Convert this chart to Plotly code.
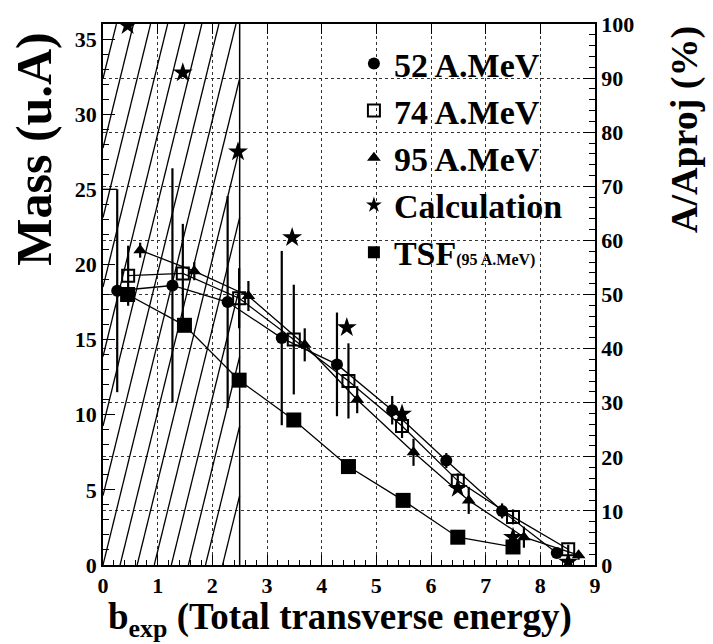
import plotly.graph_objects as go

# ---- data: mean fragment mass vs experimental impact parameter ----
b52 = [0.26, 1.27, 2.28, 3.27, 4.28, 5.29, 6.28, 7.30, 8.30]
m52 = [18.25, 18.6, 17.5, 15.1, 13.35, 10.3, 6.95, 3.6, 0.8]
e52 = [6.75, 7.8, 7.05, 5.8, 3.45, 0.95, 0.5, 0.5, 0.3]

b74 = [0.46, 1.46, 2.49, 3.49, 4.49, 5.47, 6.49, 7.50, 8.51]
m74 = [19.25, 19.4, 17.75, 15.0, 12.25, 9.25, 5.6, 3.2, 1.05]
e74 = [2.0, 3.3, 2.0, 3.65, 2.5, 0.8, 0.5, 0.5, 0.3]

b95 = [0.68, 1.67, 2.66, 3.69, 4.65, 5.68, 6.69, 7.70, 8.70]
m95 = [20.95, 19.55, 17.9, 14.65, 11.0, 7.5, 4.3, 1.85, 0.65]
e95 = [0.5, 0.6, 1.0, 1.1, 0.9, 0.9, 0.9, 0.7, 0.3]

bcalc = [0.45, 1.46, 2.47, 3.46, 4.46, 5.47, 6.49, 7.50, 8.51]
mcalc = [35.9, 32.75, 27.5, 21.8, 15.8, 10.05, 5.1, 1.85, 0.2]

btsf = [0.45, 1.49, 2.49, 3.49, 4.49, 5.49, 6.49, 7.50]
mtsf = [18.0, 15.95, 12.3, 9.65, 6.55, 4.3, 1.85, 1.2]

# tick positions / labels
xticks = [0, 1, 2, 3, 4, 5, 6, 7, 8, 9]
yticks = [0, 5, 10, 15, 20, 25, 30, 35]
pticks = [0, 10, 20, 30, 40, 50, 60, 70, 80, 90, 100]

# axis extents: projectile mass and percentage scale
A_PROJ = 36
B_MAX = 9
B_CUT = 2.5          # upper edge of the excluded (hatched) b_exp region

SERIF = "Liberation Serif"

fig = go.Figure()

# ---- hatched exclusion region 0 < b_exp < B_CUT ----
HATCH_STEP = 0.3125
HATCH_SLOPE = 14.8
hx, hy = [], []
for k in range(-8, 9):
    x0 = k * HATCH_STEP
    xs = max(0.0, x0)
    ys = HATCH_SLOPE * (xs - x0)
    if ys >= A_PROJ or xs >= B_CUT:
        continue
    xe = min(B_CUT, x0 + A_PROJ / HATCH_SLOPE)
    ye = HATCH_SLOPE * (xe - x0)
    hx += [xs, xe, None]
    hy += [ys, ye, None]
fig.add_trace(go.Scatter(x=hx, y=hy, mode="lines", line=dict(color="black", width=1.3),
                         showlegend=False, hoverinfo="skip"))
fig.add_trace(go.Scatter(x=[B_CUT, B_CUT], y=[0, A_PROJ], mode="lines",
                         line=dict(color="black", width=1.5), showlegend=False, hoverinfo="skip"))
# cap of the first 52 A.MeV error bar
fig.add_trace(go.Scatter(x=[0, b52[0]], y=[m52[0] + e52[0]] * 2, mode="lines",
                         line=dict(color="black", width=1.3), showlegend=False, hoverinfo="skip"))

# ---- connecting lines ----
for bx, my in [(b52, m52), (b74, m74), (b95, m95), (btsf, mtsf)]:
    fig.add_trace(go.Scatter(x=bx, y=my, mode="lines", line=dict(color="black", width=1.3),
                             showlegend=False, hoverinfo="skip"))

def err(arr):
    return dict(type="data", array=arr, color="black", thickness=2.2, width=0)

fig.add_trace(go.Scatter(x=b52, y=m52, mode="markers", name="<b>52 A.MeV</b>",
                         marker=dict(symbol="circle", size=12, color="black"), error_y=err(e52)))
fig.add_trace(go.Scatter(x=b74, y=m74, mode="markers", name="<b>74 A.MeV</b>",
                         marker=dict(symbol="square-open", size=12, color="black",
                                     line=dict(width=2, color="black")), error_y=err(e74)))
fig.add_trace(go.Scatter(x=b95, y=m95, mode="markers", name="<b>95 A.MeV</b>",
                         marker=dict(symbol="triangle-up", size=12, color="black"), error_y=err(e95)))
fig.add_trace(go.Scatter(x=bcalc, y=mcalc, mode="markers", name="<b>Calculation</b>",
                         marker=dict(symbol="star", size=15, color="black")))
fig.add_trace(go.Scatter(x=btsf, y=mtsf, mode="markers",
                         name="<b>TSF</b><b><span style='font-size:16px'>(95 A.MeV)</span></b>",
                         marker=dict(symbol="square", size=15, color="black")))

# helper traces that carry the top and right axes
fig.add_trace(go.Scatter(x=[None], y=[None], xaxis="x2", showlegend=False, hoverinfo="skip"))
fig.add_trace(go.Scatter(x=[None], y=[None], yaxis="y2", showlegend=False, hoverinfo="skip"))

tickfont = dict(family=SERIF, size=22, color="black")

def bold(vals):
    return ["<b>%g</b>" % v for v in vals]

fig.update_layout(
    width=713, height=644,
    margin=dict(l=103, r=118, t=21, b=79),
    paper_bgcolor="white", plot_bgcolor="white",
    font=dict(family=SERIF, size=22, color="black"),
    showlegend=True,
    legend=dict(x=0.51, y=0.98, xanchor="left", yanchor="top",
                font=dict(family=SERIF, size=34, color="black"),
                bgcolor="rgba(0,0,0,0)", itemsizing="constant", tracegroupgap=0),
    xaxis=dict(range=[0, B_MAX], tickmode="array", tickvals=xticks, ticktext=bold(xticks),
               ticks="inside", ticklen=10, tickwidth=1.2,
               tickcolor="black", showline=True, linecolor="black", linewidth=1.5,
               showgrid=True, gridcolor="#333", griddash="dot", gridwidth=1,
               minor=dict(dtick=0.2, tick0=0, ticks="inside", ticklen=5, tickcolor="black",
                          showgrid=False),
               tickfont=tickfont, zeroline=False),
    xaxis2=dict(range=[0, B_MAX], overlaying="x", side="top", tickmode="array", tickvals=xticks,
                ticks="inside", ticklen=10, tickcolor="black", showticklabels=False, showline=True,
                linecolor="black", linewidth=1.5, showgrid=False, zeroline=False),
    yaxis=dict(range=[0, A_PROJ], tickmode="array", tickvals=yticks, ticktext=bold(yticks),
               ticks="inside", ticklen=12, tickwidth=1.2,
               tickcolor="black", showline=True, linecolor="black", linewidth=1.5,
               showgrid=False, zeroline=False,
               minor=dict(dtick=1, tick0=0, ticks="inside", ticklen=6, tickcolor="black",
                          showgrid=False),
               tickfont=tickfont),
    yaxis2=dict(range=[0, 100], overlaying="y", side="right", tickmode="array", tickvals=pticks,
                ticktext=bold(pticks),
                ticks="inside", ticklen=12, tickwidth=1.2, tickcolor="black", showline=True,
                linecolor="black", linewidth=1.5, showgrid=True, gridcolor="#333",
                griddash="dot", gridwidth=1, zeroline=False,
                minor=dict(dtick=2, tick0=0, ticks="inside", ticklen=6, tickcolor="black",
                           showgrid=False),
                tickfont=tickfont),
    annotations=[
        dict(text="<b>Mass (u.A)</b>", textangle=-90, xref="paper", yref="paper",
             x=-0.142, y=0.768, xanchor="center", yanchor="middle", showarrow=False,
             font=dict(family=SERIF, size=50, color="black")),
        dict(text="<b>A/Aproj (%)</b>", textangle=-90, xref="paper", yref="paper",
             x=1.182, y=0.805, xanchor="center", yanchor="middle", showarrow=False,
             font=dict(family=SERIF, size=38, color="black")),
        dict(text="<b>b<sub>exp</sub> (Total transverse energy)</b>", xref="paper", yref="paper",
             x=0.482, y=-0.1, xanchor="center", yanchor="middle", showarrow=False,
             font=dict(family=SERIF, size=37, color="black")),
    ],
)

fig.write_html("out.html")
